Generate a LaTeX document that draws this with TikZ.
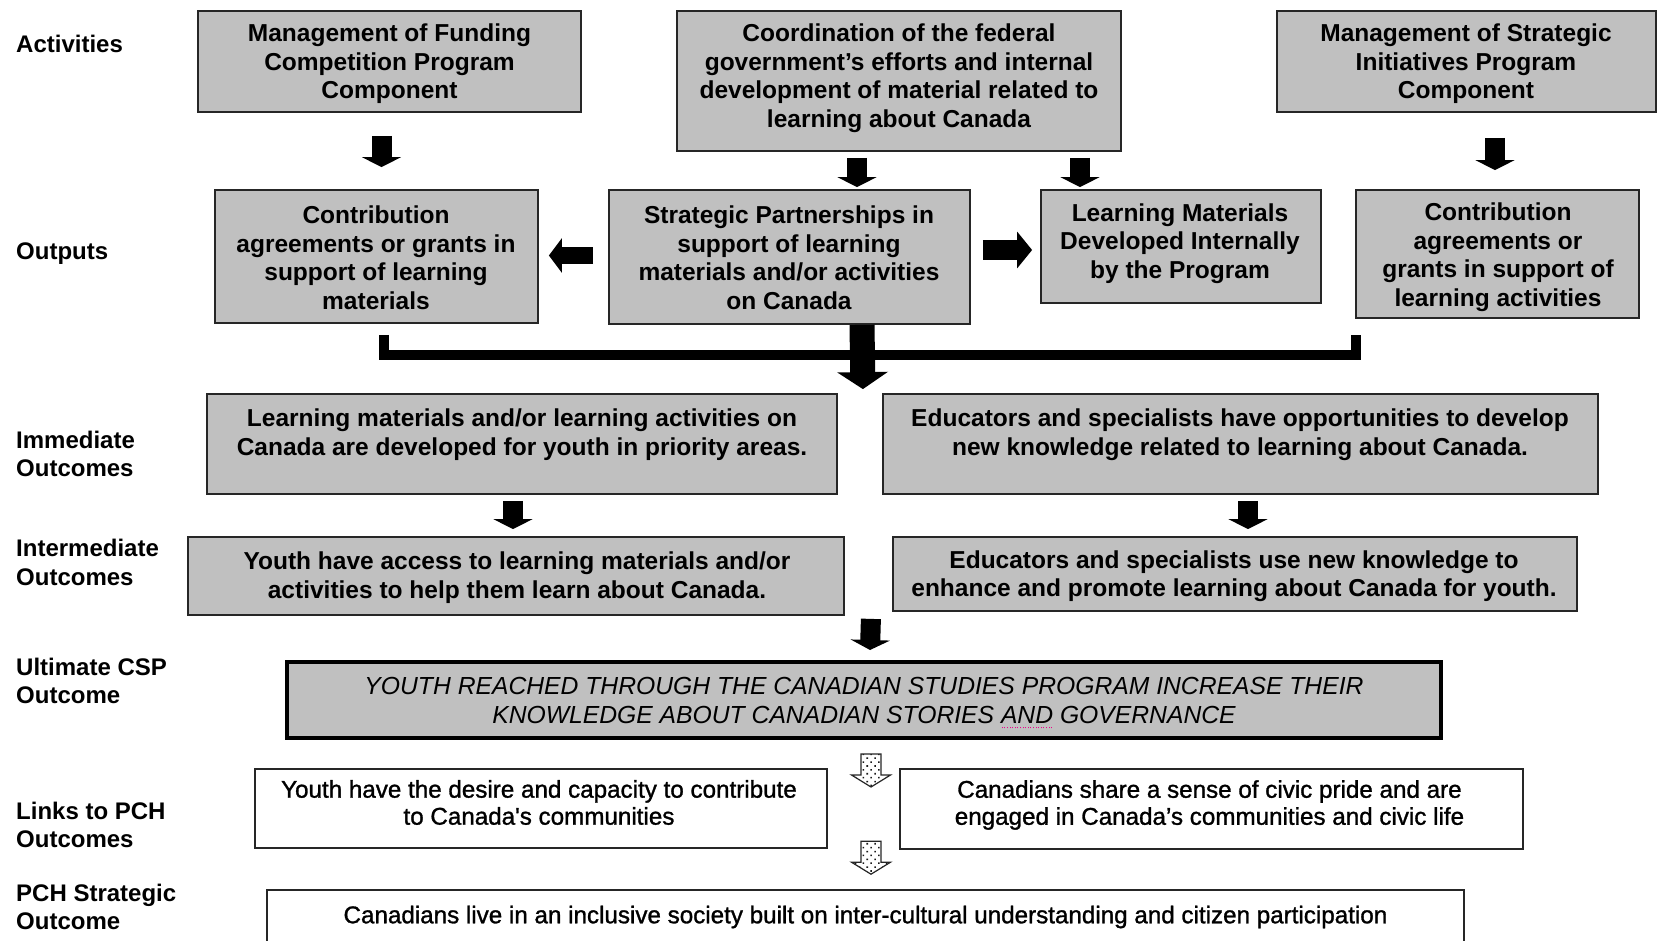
\documentclass[tikz,border=0pt]{standalone}
\usepackage{fontspec}
\setmainfont{Liberation Sans}
\newfontfamily\heavyfont[FakeBold=1.2]{Liberation Sans}
\usetikzlibrary{arrows.meta,calc,patterns.meta}
\definecolor{boxgray}{HTML}{C0C0C0}
\newcommand\spellmark[1]{\setbox0\hbox{#1}\rlap{\raisebox{-5pt}{\textcolor{magenta}{\hbox to \wd0{\leaders\hbox to 2.6pt{\hss\rule{1pt}{1pt}\hss}\hfill}}}}#1}
\begin{document}
\begin{tikzpicture}[x=1pt,y=-1pt,
  gbox/.style={draw=black!85, line width=1.8pt, fill=boxgray, inner sep=0pt},
  ubox/.style={draw=black, line width=4pt, fill=boxgray, inner sep=0pt},
  wbox/.style={draw=black!85, line width=1.6pt, fill=white, inner sep=0pt},
  btxt/.style={font=\bfseries\fontsize{24.5}{28.5}\selectfont, align=center, inner sep=0pt},
  itxt/.style={font=\itshape\fontsize{24.7}{28.5}\selectfont, align=center, inner sep=0pt},
  rtxt/.style={font=\heavyfont\fontsize{24.2}{27}\selectfont, align=center, inner sep=0pt},
  lbl/.style={font=\bfseries\fontsize{24}{28.5}\selectfont, align=left, inner sep=0pt, anchor=west},
  blk/.style={line width=20pt, -{Triangle[width=39pt,length=10pt]}},
  hollow/.style={draw=black!85, line width=1.2pt, pattern={Dots[radius=1.1pt,distance=5.5pt,angle=45]}, pattern color=black!90}
]
\useasboundingbox (0,0) rectangle (1657,941);
\fill[white] (0,0) rectangle (1657,941);

% row labels
\node[lbl] (lab1) at (16,44) {Activities};
\node[lbl] (lab2) at (16,254) {Outputs};
\node[lbl] (lab3) at (16,454) {Immediate\\Outcomes};
\node[lbl] (lab4) at (16,562.5) {Intermediate\\Outcomes};
\node[lbl] (lab5) at (16,681) {Ultimate CSP\\Outcome};
\node[lbl] (lab6) at (16,825) {Links to PCH\\Outcomes};
\node[lbl] (lab7) at (16,907) {PCH Strategic\\Outcome};

% activities
\node[gbox, minimum width=383pt, minimum height=101pt] (A1) at (389.5,61.5) {};
\node[btxt] (A1t) at (389.5,64) {Management of Funding\\Competition Program\\Component};
\node[gbox, minimum width=444pt, minimum height=140pt] (A2) at (899,81) {};
\node[btxt] (A2t) at (899,78) {Coordination of the federal\\government’s efforts and internal\\development of material related to\\learning about Canada};
\node[gbox, minimum width=379pt, minimum height=101pt] (A3) at (1466.5,61.5) {};
\node[btxt] (A3t) at (1466,64) {Management of Strategic\\Initiatives Program\\Component};

% outputs
\node[gbox, minimum width=323pt, minimum height=133pt] (O1) at (376.5,256.5) {};
\node[btxt] (O1t) at (376,257.5) {Contribution\\agreements or grants in\\support of learning\\materials};
\node[gbox, minimum width=361pt, minimum height=134pt] (O2) at (789.5,257) {};
\node[btxt] (O2t) at (789,257.5) {Strategic Partnerships in\\support of learning\\materials and/or activities\\on Canada};
\node[gbox, minimum width=280pt, minimum height=113pt] (O3) at (1181,246.5) {};
\node[btxt] (O3t) at (1180,243.5) {Learning Materials\\Developed Internally\\by the Program};
\node[gbox, minimum width=283pt, minimum height=128pt] (O4) at (1497.5,254) {};
\node[btxt] (O4t) at (1498,257) {Contribution\\agreements or\\grants in support of\\learning activities};

% immediate outcomes
\node[gbox, minimum width=630pt, minimum height=100pt] (I1) at (522,444) {};
\node[btxt] (I1t) at (522,434.5) {Learning materials and/or learning activities on\\Canada are developed for youth in priority areas.};
\node[gbox, minimum width=715pt, minimum height=100pt] (I2) at (1240.5,444) {};
\node[btxt] (I2t) at (1240,434.5) {Educators and specialists have opportunities to develop\\new knowledge related to learning about Canada.};

% intermediate outcomes
\node[gbox, minimum width=656pt, minimum height=78pt] (M1) at (516,576) {};
\node[btxt] (M1t) at (517,577.5) {Youth have access to learning materials and/or\\activities to help them learn about Canada.};
\node[gbox, minimum width=684pt, minimum height=74pt] (M2) at (1235,574) {};
\node[btxt] (M2t) at (1234,576) {Educators and specialists use new knowledge to\\enhance and promote learning about Canada for youth.};

% ultimate
\node[ubox, minimum width=1154pt, minimum height=76pt] (U) at (864,700) {};
\node[itxt] (Ut) at (864,703) {YOUTH REACHED THROUGH THE CANADIAN STUDIES PROGRAM INCREASE THEIR\\KNOWLEDGE ABOUT CANADIAN STORIES \spellmark{AND} GOVERNANCE};

% links
\node[wbox, minimum width=572pt, minimum height=79pt] (L1) at (541,808.5) {};
\node[rtxt] (L1t) at (539,802.5) {Youth have the desire and capacity to contribute\\to Canada's communities};
\node[wbox, minimum width=623pt, minimum height=80pt] (L2) at (1211.5,809) {};
\node[rtxt] (L2t) at (1209.5,805) {Canadians share a sense of civic pride and are\\engaged in Canada’s communities and civic life};

% strategic
\node[wbox, minimum width=1197pt, minimum height=60pt] (S) at (865.5,920) {};
\node[rtxt] (St) at (865.5,917) {Canadians live in an inclusive society built on inter-cultural understanding and citizen participation};

% block arrows
\draw[blk] ($(A1.south)+(-8,23)$) -- ($(O1.north)+(5,-22)$);
\draw[blk] ($(A2.south)+(-42,6)$) -- ($(O2.north)+(67.5,-2)$);
\draw[blk] ($(A2.south)+(181,6)$) -- ($(O3.north)+(-101,-2)$);
\draw[blk] ($(A3.south)+(28.5,25)$) -- ($(O4.north)+(-2.5,-19)$);
\draw[line width=17pt, -{Triangle[width=34pt,length=13pt]}] ($(O2.west)+(-15,-1.5)$) -- ($(O1.east)+(10,-1)$);
\draw[line width=20pt, -{Triangle[width=36pt,length=15pt]}] ($(O2.east)+(12,-7)$) -- ($(O3.west)+(-8,3.5)$);

% bracket and merging arrow
\draw[line width=10pt] ($(O1.south)+(7.5,11)$) |- ($(O4.south west)+(1,36.5)$) -- ($(O4.south west)+(1,16)$);
\draw[line width=25pt, -{Triangle[width=50pt,length=17pt]}] ($(O2.south)+(72.5,0)$) -- ($(I1.north east)+(25,-4)$);

\draw[blk] ($(I1.south)+(-9,6)$) -- ($(M1.north)+(-3,-7)$);
\draw[blk] ($(I2.south)+(7.5,6)$) -- ($(M2.north)+(13,-7)$);
\draw[blk] ($(M1.south east)+(26,3)$) -- ($(U.north)+(6,-10)$);

% hollow dotted arrows
\coordinate (h1) at ($(U.south)+(7,14)$);
\coordinate (h2) at ($(S.north)+(5.5,-48)$);
\foreach \h in {h1,h2}{
  \draw[hollow] ($(\h)+(-10,0)$) -- ++(0,21) -- ++(-9.5,0) -- ++(19.5,12) -- ++(19.5,-12) -- ++(-9.5,0) -- ++(0,-21) -- cycle;
}
\end{tikzpicture}
\end{document}
